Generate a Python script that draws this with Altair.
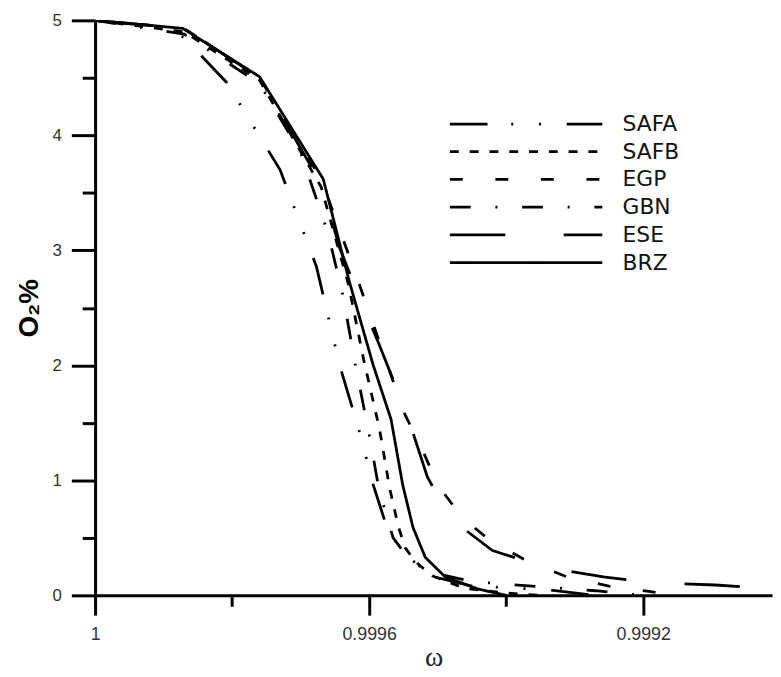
import altair as alt
import pandas as pd

series = ["SAFA", "SAFB", "EGP", "GBN", "ESE", "BRZ"]

safa_omega = [1.0, 0.9999, 0.99987, 0.999808, 0.99973, 0.999677, 0.999643, 0.999614, 0.999594,
              0.999573, 0.99955, 0.999528, 0.999505, 0.99945, 0.99934, 0.99927]
safa_o2 = [5.0, 4.94, 4.85, 4.46, 3.70, 2.86, 2.0, 1.42, 0.96, 0.57, 0.37, 0.26, 0.16, 0.08, 0.05, 0.0]

safb_omega = [1.0, 0.99987, 0.99976, 0.99967, 0.99963, 0.999608, 0.999585, 0.99957, 0.999557,
              0.999547, 0.999532, 0.999508, 0.99946, 0.9994, 0.99935]
safb_o2 = [5.0, 4.9, 4.48, 3.55, 2.7, 2.05, 1.45, 0.93, 0.59, 0.41, 0.29, 0.17, 0.06, 0.02, 0.0]

egp_omega = [1.0, 0.99987, 0.99976, 0.99967, 0.99962, 0.999573, 0.99955, 0.999522, 0.999499,
             0.999463, 0.999424, 0.99937, 0.999311, 0.99925, 0.9992, 0.99915]
egp_o2 = [5.0, 4.93, 4.5, 3.62, 2.8, 2.0, 1.6, 1.26, 0.95, 0.67, 0.48, 0.3, 0.16, 0.08, 0.04, 0.0]

gbn_omega = [1.0, 0.99987, 0.99976, 0.9997, 0.99966, 0.999638, 0.99962, 0.9996, 0.999585,
             0.999565, 0.99954, 0.99951, 0.99945, 0.99934, 0.99927, 0.9992]
gbn_o2 = [5.0, 4.88, 4.45, 3.85, 3.15, 2.6, 2.0, 1.4, 0.9, 0.5, 0.3, 0.2, 0.12, 0.07, 0.04, 0.0]

ese_omega = [1.0, 0.99987, 0.99976, 0.99967, 0.999643, 0.999615, 0.999586, 0.999544, 0.999515,
             0.999482, 0.99942, 0.999344, 0.999258, 0.999181, 0.999095, 0.999012]
ese_o2 = [5.0, 4.93, 4.5, 3.58, 3.02, 2.6, 2.19, 1.56, 1.03, 0.67, 0.39, 0.245, 0.16, 0.107, 0.09, 0.056]

brz_omega = [1.0, 0.999872, 0.99976, 0.999667, 0.999629, 0.999594, 0.999568, 0.999551, 0.999536,
             0.999518, 0.999489, 0.999441, 0.9994]
brz_o2 = [5.0, 4.93, 4.51, 3.62, 2.73, 2.0, 1.53, 0.96, 0.59, 0.33, 0.16, 0.055, 0.0]

dash_patterns = [[38, 24, 2, 26, 2, 26], [9, 11], [13, 33], [21, 25, 2, 25], [56, 59], [1, 0]]

x_ticks = [1.0, 0.9998, 0.9996, 0.9994, 0.9992]
y_ticks = [0, 0.5, 1, 1.5, 2, 2.5, 3, 3.5, 4, 4.5, 5]

rows = []
for name, om, o2 in [("SAFA", safa_omega, safa_o2), ("SAFB", safb_omega, safb_o2),
                     ("EGP", egp_omega, egp_o2), ("GBN", gbn_omega, gbn_o2),
                     ("ESE", ese_omega, ese_o2), ("BRZ", brz_omega, brz_o2)]:
    for a, b in zip(om, o2):
        rows.append({"series": name, "omega": a, "O2": b})
df = pd.DataFrame(rows)

x_major = ("abs(datum.value - 1) < 1e-7 || abs(datum.value - 0.9996) < 1e-7 || "
           "abs(datum.value - 0.9992) < 1e-7")
x_label = ("abs(datum.value - 1) < 1e-7 ? '1' : abs(datum.value - 0.9996) < 1e-7 ? '0.9996' : "
           "abs(datum.value - 0.9992) < 1e-7 ? '0.9992' : ''")

chart = alt.Chart(df).mark_line(color="black", strokeWidth=2.8, clip=True).encode(
    x=alt.X("omega:Q",
            scale=alt.Scale(domain=[0.999012, 1.0], reverse=True, nice=False, zero=False),
            axis=alt.Axis(title="ω", values=x_ticks, labelExpr=x_label,
                          tickSize={"condition": {"test": x_major, "value": 20}, "value": 11},
                          domainWidth=3, tickWidth=3, domainColor="black", tickColor="black",
                          labelFlush=False, labelOverlap=False, labelPadding=11,
                          labelFontSize=18,
                          titleFont="Liberation Serif", titleFontSize=28,
                          titleFontWeight="normal", titleColor="#222", titlePadding=0)),
    y=alt.Y("O2:Q",
            scale=alt.Scale(domain=[0, 5], nice=False, zero=True),
            axis=alt.Axis(title="O₂%", values=y_ticks,
                          labelExpr="datum.value % 1 === 0 ? format(datum.value, 'd') : ''",
                          tickSize={"condition": {"test": "datum.value % 1 === 0", "value": 24},
                                    "value": 13},
                          domainWidth=3, tickWidth=3, domainColor="black", tickColor="black",
                          labelOverlap=False, labelPadding=10, labelFontSize=17,
                          titleFont="Liberation Sans", titleFontSize=28,
                          titleFontWeight="bold", titleColor="black", titlePadding=9)),
    strokeDash=alt.StrokeDash("series:N",
                              scale=alt.Scale(domain=series, range=dash_patterns),
                              legend=alt.Legend(title=None, orient="none", legendX=357, legendY=91,
                                                symbolType="stroke", symbolSize=23716,
                                                symbolStrokeWidth=2.8, symbolStrokeColor="black",
                                                clipHeight=27.5, labelFontSize=22,
                                                labelFont="DejaVu Sans", labelColor="#111",
                                                labelOffset=19, padding=0, rowPadding=0,
                                                symbolOffset=0)),
).properties(
    width=684, height=581,
    autosize=alt.AutoSizeParams(type="none"),
    padding={"left": 88, "top": 9, "right": 1, "bottom": 77},
).configure_view(stroke=None).configure_axis(
    labelColor="#333", labelFont="Liberation Sans", grid=False,
)

chart.save("out.html", embed_options={"renderer": "svg", "actions": False})
